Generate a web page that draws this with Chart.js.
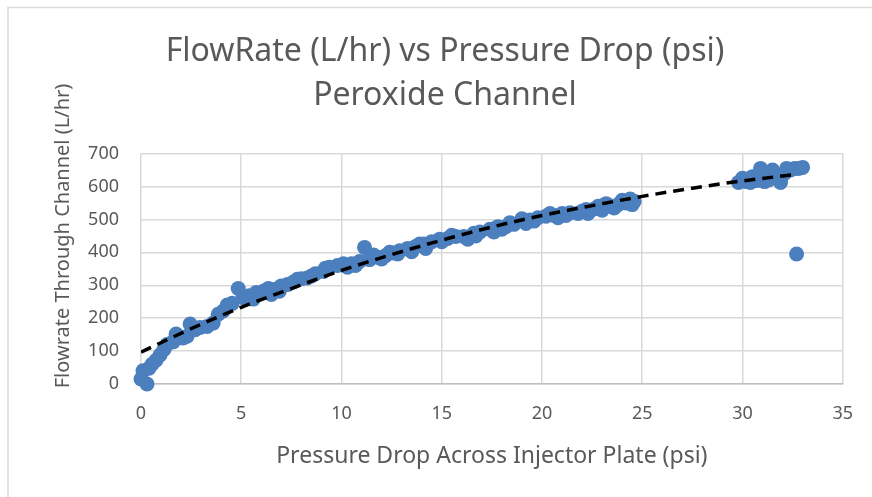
<!DOCTYPE html>
<html>
<head>
<meta charset="utf-8">
<script src="https://cdn.jsdelivr.net/npm/chart.js@4"></script>
<style>
  html, body { margin: 0; padding: 0; background: #fff; }
  #wrap { width: 872px; height: 497px; }
</style>
</head>
<body>
<div id="wrap"><canvas id="flowChart" width="872" height="497"></canvas></div>
<script>
/* === DATA === */
const pressureDrop = [
  0.0, 0.3, 0.1, 0.4, 0.55, 0.75, 0.95, 1.15, 1.3, 1.6, 1.75, 2.1, 2.3, 2.45, 2.7, 2.95,
  3.3, 3.6, 3.85, 4.1, 4.3, 4.55, 4.85, 5.1, 5.4, 5.6, 5.75, 6.1, 6.35, 6.5, 6.7, 6.9, 7.0, 7.3,
  7.6, 7.8, 8.0, 8.3, 8.5, 8.7, 9.1, 9.2, 9.4, 9.8, 10.1, 10.3, 10.5, 10.7, 10.9, 11.15, 11.4, 11.6, 11.8, 12.0,
  12.2, 12.4, 12.6, 12.8, 12.9, 13.3, 13.5, 13.7, 13.9, 14.1, 14.2, 14.5, 14.9, 15.0, 15.3, 15.5, 15.7, 16.1,
  16.3, 16.6, 16.7, 16.9, 17.4, 17.6, 17.8, 18.0, 18.2, 18.4, 18.6, 19.0, 19.2, 19.4, 19.6, 19.8, 20.2, 20.4, 20.6, 20.8,
  21.0, 21.2, 21.4, 21.8, 22.0, 22.2, 22.3, 22.6, 22.8, 23.0, 23.2, 23.4, 23.6, 23.8, 24.0, 24.2, 24.4, 24.5, 24.6,
  29.8, 30.0, 30.2, 30.4, 30.5, 30.7, 30.9, 31.1, 31.2, 31.3, 31.5, 31.7, 31.9, 32.1,
  32.2, 32.4, 32.6, 32.8, 33.0, 32.7
];
const flowRate = [
  15, 0, 40, 48, 60, 72, 88, 105, 120, 128, 152, 140, 145, 182, 165, 172,
  175, 185, 212, 222, 240, 245, 290, 262, 268, 258, 278, 282, 290, 272, 288, 282, 298, 302,
  310, 318, 320, 322, 328, 335, 342, 352, 355, 360, 365, 355, 365, 360, 372, 415, 378, 392, 385, 380,
  390, 400, 398, 395, 405, 412, 402, 418, 425, 425, 412, 432, 440, 432, 442, 452, 448, 448,
  440, 458, 450, 462, 470, 462, 478, 470, 478, 490, 485, 502, 488, 498, 495, 505, 510, 518, 512, 505,
  518, 512, 520, 518, 525, 530, 518, 532, 540, 528, 548, 540, 535, 545, 558, 550, 562, 545, 555,
  612, 625, 615, 612, 630, 618, 655, 615, 632, 620, 650, 628, 612, 640,
  655, 650, 655, 655, 658, 395
];

// trendline (dashed)
const trendX = [0, 2.5, 5, 7.5, 10, 12.5, 15, 17.5, 20, 22.5, 25, 27.5, 30, 32.7];
const trendY = [97, 168, 233, 290, 345, 393, 437, 477, 512, 542, 570, 595, 617, 637];

const xTicks = [0, 5, 10, 15, 20, 25, 30, 35];
const yTicks = [0, 100, 200, 300, 400, 500, 600, 700];

const chartTitle = ["FlowRate (L/hr) vs Pressure Drop (psi)", "Peroxide Channel"];
const xTitle = "Pressure Drop Across Injector Plate (psi)";
const yTitle = "Flowrate Through Channel (L/hr)";

/* === STYLE === */
const FONT = "'Noto Sans', 'Open Sans', sans-serif";
const TEXT_GRAY = "#595959";
const GRID_GRAY = "#d9d9d9";
const DOT_BLUE = "#4b7fbe";

const pts = pressureDrop.map((x, i) => ({ x: x, y: flowRate[i] }));
const trend = trendX.map((x, i) => ({ x: x, y: trendY[i] }));

// outer frame of the chart object + y axis title (Excel puts it a bit higher than centre)
const extrasPlugin = {
  id: "extras",
  afterDraw(chart) {
    const ctx = chart.ctx;
    ctx.save();
    ctx.strokeStyle = GRID_GRAY;
    ctx.lineWidth = 1.5;
    ctx.beginPath();
    ctx.moveTo(8, 520);
    ctx.lineTo(8, 7.5);
    ctx.lineTo(880, 7.5);
    ctx.stroke();

    ctx.translate(63, 236);
    ctx.rotate(-Math.PI / 2);
    ctx.fillStyle = TEXT_GRAY;
    ctx.font = "20px " + FONT;
    ctx.textAlign = "center";
    ctx.textBaseline = "middle";
    ctx.fillText(yTitle, 0, 0);
    ctx.restore();
  }
};

new Chart(document.getElementById("flowChart"), {
  type: "scatter",
  data: {
    datasets: [
      {
        type: "line",
        data: trend,
        borderColor: "#000",
        borderWidth: 3.5,
        borderDash: [11, 7],
        pointRadius: 0,
        fill: false,
        cubicInterpolationMode: "monotone",
        order: 0
      },
      {
        data: pts,
        backgroundColor: DOT_BLUE,
        borderColor: DOT_BLUE,
        borderWidth: 0,
        pointRadius: 7.5,
        clip: 12,
        order: 1
      }
    ]
  },
  options: {
    responsive: false,
    animation: false,
    layout: { padding: { left: 45, right: 27, top: 8, bottom: 13 } },
    plugins: {
      legend: { display: false },
      tooltip: { enabled: false },
      title: {
        display: true,
        text: chartTitle,
        color: TEXT_GRAY,
        font: { family: FONT, size: 32, weight: "normal", lineHeight: 1.4 },
        padding: { top: 21, bottom: 35 }
      }
    },
    scales: {
      x: {
        type: "linear",
        min: 0, max: 35,
        afterBuildTicks: s => { s.ticks = xTicks.map(v => ({ value: v })); },
        afterFit: s => { s.height = 100; },
        ticks: { color: TEXT_GRAY, font: { family: FONT, size: 18 }, padding: 19, maxRotation: 0 },
        grid: { color: GRID_GRAY, lineWidth: 1.5, drawTicks: false },
        border: { color: "#bfbfbf", width: 1.5 },
        title: {
          display: true, text: xTitle, color: TEXT_GRAY,
          font: { family: FONT, size: 23 }, padding: { top: 0, bottom: 14 }
        }
      },
      y: {
        type: "linear",
        min: 0, max: 700,
        afterBuildTicks: s => { s.ticks = yTicks.map(v => ({ value: v })); },
        afterFit: s => { s.width = 96; },
        ticks: { color: TEXT_GRAY, font: { family: FONT, size: 18 }, padding: 22 },
        grid: { color: GRID_GRAY, lineWidth: 1.5, drawTicks: false },
        border: { display: false },
        title: { display: false }
      }
    }
  },
  plugins: [extrasPlugin]
});
</script>
</body>
</html>
